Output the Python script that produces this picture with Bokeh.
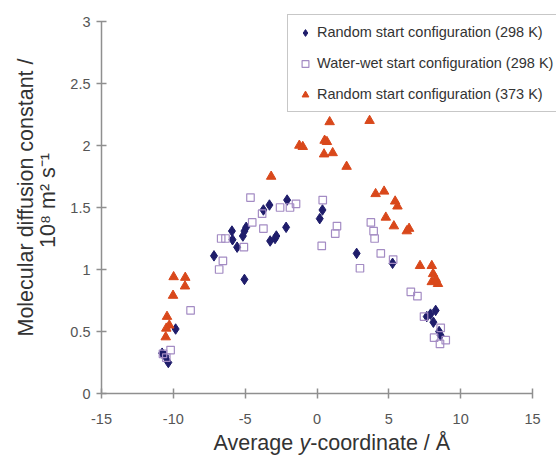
import math
from bokeh.plotting import figure
from bokeh.models import Label, FixedTicker, NumeralTickFormatter
from bokeh.embed import file_html
from bokeh.resources import INLINE

# ---- data ----
rand298_x = [-9.84, -10.78, -10.56, -10.35,
             -7.17, -5.92, -5.88, -5.56, -5.16, -5.05, -4.93, -5.05,
             -3.73, -3.31, -3.26, -2.92, -2.83, -2.15, -2.08, 0.19, 0.38,
             2.76, 5.26,
             8.26, 7.90, 7.64, 8.10, 8.50, 8.60]
rand298_y = [0.52, 0.325, 0.30, 0.25,
             1.11, 1.31, 1.24, 1.18, 1.27, 1.31, 1.34, 0.92,
             1.48, 1.52, 1.23, 1.25, 1.27, 1.34, 1.56, 1.41, 1.48,
             1.13, 1.05,
             0.67, 0.64, 0.62, 0.575, 0.50, 0.47]

wet298_x = [-8.80, -10.19, -10.72, -10.49,
            -6.81, -6.55, -6.67, -6.37, -5.09, -4.63, -4.51, -3.82, -3.73,
            -2.57, -1.88, -1.46, 0.40, 0.33, 1.39, 1.27, 2.99,
            3.75, 3.94, 4.01, 4.44, 5.30,
            6.53, 6.99, 7.45, 8.61, 8.15, 8.96, 8.56]
wet298_y = [0.67, 0.35, 0.32, 0.29,
            1.00, 1.07, 1.25, 1.25, 1.18, 1.58, 1.38, 1.45, 1.33,
            1.50, 1.50, 1.53, 1.56, 1.19, 1.35, 1.29, 1.01,
            1.38, 1.31, 1.25, 1.13, 1.08,
            0.82, 0.785, 0.62, 0.53, 0.45, 0.43, 0.40]

rand373_x = [-9.98, -9.17, -9.19, -10.02, -10.44, -10.28, -10.49, -10.53,
             -3.19,
             0.88, 3.66, -1.23, -0.99, 0.53, 0.69, 0.49, 1.09, 2.06,
             4.08, 4.67, 5.44, 5.60, 4.79, 5.35, 6.25, 6.41,
             7.17, 7.99, 8.08, 7.99, 8.26, 8.42]
rand373_y = [0.94, 0.935, 0.865, 0.79, 0.62, 0.55, 0.525, 0.455,
             1.75,
             2.19, 2.20, 2.00, 1.99, 2.04, 2.03, 1.93, 1.94, 1.83,
             1.61, 1.63, 1.55, 1.51, 1.42, 1.35, 1.31, 1.33,
             1.03, 1.03, 0.965, 0.90, 0.925, 0.885]

labels = ["Random start configuration (298 K)",
          "Water-wet start configuration (298 K)",
          "Random start configuration (373 K)"]
x_ticks = [-15, -10, -5, 0, 5, 10, 15]
y_ticks = [0, 0.5, 1, 1.5, 2, 2.5, 3]

# ---- layout: the frame fills the canvas, axes are pinned with fixed_location ----
W, H = 556, 455
AL, AR, AT, AB = 101, 532, 21, 393   # pixel positions of x=-15, x=15, y=3, y=0
X0, X1, Y0, Y1 = -15, 15, 0, 3
sx = (X1 - X0) / (AR - AL)
sy = (Y1 - Y0) / (AB - AT)

def cx(px):
    return X0 + (px - AL) * sx

def cy(py):
    return Y0 + (AB - py) * sy

p = figure(width=W, height=H, x_range=(cx(0), cx(W)), y_range=(cy(H), cy(0)),
           output_backend="svg", toolbar_location=None,
           min_border_left=0, min_border_right=0,
           min_border_top=0, min_border_bottom=0)
p.outline_line_color = None
p.grid.visible = False
p.background_fill_color = "white"

FONT = "Liberation Sans"
for ax in (p.xaxis[0], p.yaxis[0]):
    ax.axis_line_color = "#8f8f8f"
    ax.axis_line_width = 1.5
    ax.major_tick_line_color = "#8f8f8f"
    ax.major_tick_line_width = 1.5
    ax.major_tick_in = 5
    ax.major_tick_out = 5
    ax.minor_tick_line_color = None
    ax.major_label_text_font = FONT
    ax.major_label_text_font_size = "14.5px"
    ax.major_label_text_color = "#555555"
    ax.formatter = NumeralTickFormatter(format="0.[0]")
p.xaxis[0].ticker = FixedTicker(ticks=x_ticks)
p.yaxis[0].ticker = FixedTicker(ticks=y_ticks)
p.xaxis[0].bounds = (X0, X1)
p.yaxis[0].bounds = (Y0, Y1)
p.xaxis[0].fixed_location = Y0
p.yaxis[0].fixed_location = X0
p.xaxis[0].major_label_standoff = 15
p.yaxis[0].major_label_standoff = 6

NAVY = "#1f1d6b"
LAV = "#a48cc4"
RED = "#d9481b"

p.scatter(rand298_x, rand298_y, marker="diamond", size=10.5,
          fill_color=NAVY, line_color=NAVY, legend_label=labels[0])
p.scatter(wet298_x, wet298_y, marker="square", size=7.5,
          fill_color="white", fill_alpha=0.0, line_color=LAV, line_width=1.2,
          legend_label=labels[1])
p.scatter(rand373_x, rand373_y, marker="triangle", size=9.5,
          fill_color=RED, line_color=RED, legend_label=labels[2])

lg = p.legend[0]
lg.location = (287, H - 112)
lg.label_text_font = FONT
lg.label_text_font_size = "14.5px"
lg.label_text_color = "#333333"
lg.border_line_color = "#8f8f8f"
lg.border_line_width = 1
lg.background_fill_color = "white"
lg.background_fill_alpha = 1.0
lg.padding = 7
lg.spacing = 11
lg.margin = 0
lg.glyph_width = 20
lg.glyph_height = 17
lg.label_height = 20
lg.label_standoff = 2

# axis titles
TS = 21.5
common = dict(x_units="data", y_units="data", text_font=FONT,
              text_font_size=f"{TS}px", text_color="#333333")
p.add_layout(Label(x=cx(25), y=cy(197), text="Molecular diffusion constant /",
                   angle=math.pi / 2, text_align="center",
                   text_baseline="alphabetic", **common))
p.add_layout(Label(x=cx(47), y=cy(200), text="10\u2078 m\u00b2 s\u207b\u00b9",
                   angle=math.pi / 2, text_align="center",
                   text_baseline="alphabetic", **common))

xs = 213
yb = 442
w1 = 4.002 * TS
w2 = 0.5 * TS
p.add_layout(Label(x=cx(xs), y=cy(yb), text="Average ", text_align="left",
                   text_baseline="alphabetic", **common))
p.add_layout(Label(x=cx(xs + w1), y=cy(yb), text="y", text_align="left",
                   text_baseline="alphabetic", text_font_style="italic", **common))
p.add_layout(Label(x=cx(xs + w1 + w2), y=cy(yb), text="-coordinate / \u00c5",
                   text_align="left", text_baseline="alphabetic", **common))

open("out.html", "w").write(file_html(p, INLINE))
